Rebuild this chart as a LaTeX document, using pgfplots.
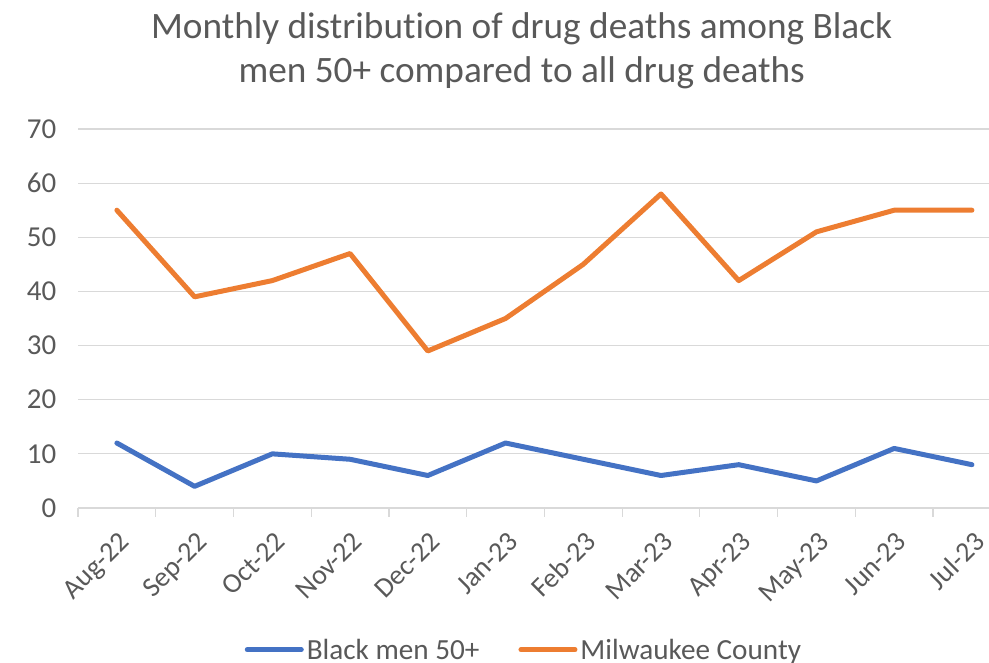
\documentclass[border=0pt]{standalone}
\usepackage{pgfplots}
\pgfplotsset{compat=1.18}
\usepackage{fontspec}
\setmainfont{Carlito}[Ligatures=NoCommon]
\definecolor{serA}{HTML}{4472C4}
\definecolor{serB}{HTML}{ED7D31}
\definecolor{gridc}{HTML}{D9D9D9}
\definecolor{txt}{HTML}{595959}
\begin{document}
\begin{tikzpicture}[x=1bp,y=1bp]
\path[use as bounding box] (0,0) rectangle (989,663);
\begin{axis}[
  at={(78bp,155bp)}, anchor=south west,
  scale only axis, width=911bp, height=379bp,
  xmin=-0.5, xmax=11.22, ymin=0, ymax=70,
  axis lines*=left,
  axis line style={draw=none},
  ytick={0,10,...,70},
  ymajorgrids, grid style={gridc, line width=1.2bp},
  ytick style={draw=none},
  xtick={0,...,11},
  xticklabels={Aug-22,Sep-22,Oct-22,Nov-22,Dec-22,Jan-23,Feb-23,Mar-23,Apr-23,May-23,Jun-23,Jul-23},
  major x tick style={draw=none},
  minor xtick={-0.5,0.5,...,10.5},
  minor x tick style={gridc, line width=1.2bp},
  tick align=outside, minor tick length=9bp,
  xticklabel style={font=\fontsize{28}{32}\selectfont, text=txt, xshift=1bp, yshift=-13bp, rotate=45, anchor=north east},
  yticklabel style={font=\fontsize{29}{32}\selectfont, text=txt, xshift=-14bp},
  /pgf/number format/assume math mode=true,
  title={Monthly distribution of drug deaths among Black\\men 50+ compared to all drug deaths},
  title style={at={(rel axis cs:0.487,1.19)}, anchor=center, align=center,
    font=\fontsize{37.4}{44}\selectfont, text=txt},
  legend columns=2,
  legend cell align=left,
  legend style={at={(rel axis cs:0.49,-0.374)}, anchor=center, draw=none,
    font=\fontsize{29.3}{32}\selectfont, text=txt,
    nodes={inner xsep=3bp},
    /tikz/every even column/.append style={column sep=36bp}},
  legend image code/.code={\draw[#1] (0bp,0bp) -- (54bp,0bp);},
  clip=false,
]
\addplot[serA, line width=5bp, line cap=round, line join=round] coordinates {
 (0,12) (1,4) (2,10) (3,9) (4,6) (5,12) (6,9) (7,6) (8,8) (9,5) (10,11) (11,8)};
\addlegendentry{Black men 50+}
\addplot[serB, line width=5bp, line cap=round, line join=round] coordinates {
 (0,55) (1,39) (2,42) (3,47) (4,29) (5,35) (6,45) (7,58) (8,42) (9,51) (10,55) (11,55)};
\addlegendentry{Milwaukee County}
\end{axis}
\end{tikzpicture}
\end{document}
